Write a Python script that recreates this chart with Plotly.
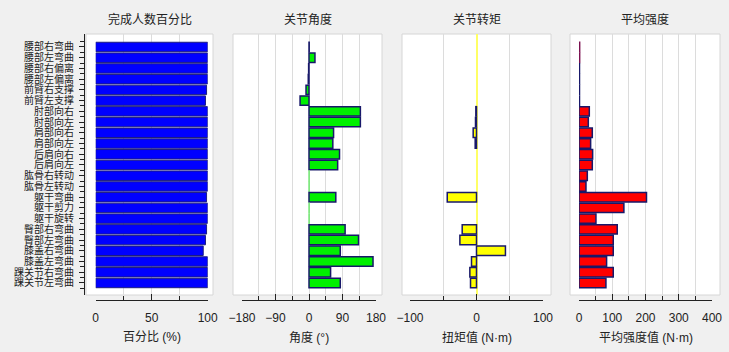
import plotly.graph_objects as go

categories = ["腰部右弯曲", "腰部左弯曲", "腰部右偏离", "腰部左偏离", "前臂右支撑", "前臂左支撑",
              "肘部向右", "肘部向左", "肩部向右", "肩部向左", "后肩向右", "后肩向左",
              "肱骨右转动", "肱骨左转动", "躯干弯曲", "躯干剪力", "躯干旋转",
              "臀部右弯曲", "臀部左弯曲", "膝盖右弯曲", "膝盖左弯曲", "踝关节右弯曲", "踝关节左弯曲"]
completion_pct = [100, 100, 100, 100, 99, 98, 100, 100, 100, 100, 100, 100,
                  100, 100, 99, 100, 100, 99, 98, 96, 100, 100, 100]
joint_angle = [0.5, 16, -1, -2, -8, -24, 138, 138, 66, 64, 82, 77,
               0.5, 0.5, 72, 0.5, 0.5, 97, 133, 84, 172, 58, 84]
joint_torque = [0, 0, 0, 0, 0, 0, -1, -1.5, -5, -2, 0, 0,
                0, 0, -44, 0, 0, -21.5, -25, 43.5, -7.5, -10, -9]
avg_strength = [2, 2, 1.5, 1.5, 1.5, 1.5, 31, 28, 40, 35, 41, 40,
                25, 21, 203, 135, 51, 115, 103, 103, 83, 103, 81]

panel_titles = ["完成人数百分比", "关节角度", "关节转矩", "平均强度"]
axis_titles = ["百分比 (%)", "角度 (°)", "扭矩值 (N·m)", "平均强度值 (N·m)"]

W, H = 729, 352
def fx(px):
    return px / W
def fy(py):
    return 1 - py / H

idx = list(range(len(categories)))
FONT = "Liberation Sans, Noto Sans CJK SC, sans-serif"
CJK = "Noto Sans CJK SC, sans-serif"

data_x = [(95.7, 207.7), (242, 376), (410, 543), (579, 712)]
bg_x = [(86, 213), (233, 382), (402, 551), (570, 720)]
ranges = [[0, 100], [-180, 180], [-100, 100], [0, 400]]
majors = [50, 90, 100, 100]
minors = [25, 45, 50, 50]
colors = ["#0000ff", "#00f000", "#ffff00", "#ff0000"]
series = [completion_pct, joint_angle, joint_torque, avg_strength]

NAVY = "#18186a"
line_cols_angle = [NAVY] * len(categories)
for i in (12, 13, 15, 16):
    line_cols_angle[i] = "#7ee87e"
line_cols_torque = [NAVY if v != 0 else "rgba(0,0,0,0)" for v in joint_torque]
line_cols_strength = [NAVY] * len(categories)
line_cols_strength[0] = "#7a1050"
line_cols_strength[1] = "#7a1050"
line_colors = ["#1c1c80", line_cols_angle, line_cols_torque, line_cols_strength]
line_widths = [1, 1.5, 1.5, 1.5]

fig = go.Figure()
for k in range(4):
    xa = "x" if k == 0 else f"x{k+1}"
    fig.add_trace(go.Bar(
        x=series[k], y=idx, orientation="h", xaxis=xa, yaxis="y",
        marker=dict(color=colors[k], line=dict(color=line_colors[k], width=line_widths[k])),
        showlegend=False, hoverinfo="x+y",
    ))

top_px, bot_px = 34, 295
layout = dict(
    width=W, height=H, autosize=False,
    margin=dict(l=0, r=0, t=0, b=0, pad=0, autoexpand=False),
    paper_bgcolor="#f0f0f0",
    plot_bgcolor="rgba(0,0,0,0)",
    bargap=0.12,
    showlegend=False,
    font=dict(family=FONT, size=12, color="#222222"),
    shapes=[], annotations=[],
)

layout["yaxis"] = dict(
    domain=[fy(bot_px), fy(top_px)],
    range=[23.12, -1.21],
    tickmode="array", tickvals=idx, ticktext=categories,
    ticks="outside", ticklen=5, tickcolor="#222", tickwidth=1,
    minor=dict(tickmode="linear", tick0=0.5, dtick=1, ticks="outside", ticklen=4, tickcolor="#222"),
    showline=True, linecolor="#222", linewidth=1,
    showgrid=False, zeroline=False,
    anchor="free", position=fx(84), automargin=False,
    ticklabelstandoff=3,
    tickfont=dict(family=CJK, size=10, color="#222"),
    fixedrange=True,
)

for k in range(4):
    name = "xaxis" if k == 0 else f"xaxis{k+1}"
    layout[name] = dict(
        domain=[fx(data_x[k][0]), fx(data_x[k][1])],
        range=ranges[k],
        tickmode="linear", tick0=ranges[k][0], dtick=majors[k],
        ticks="inside", ticklen=6, tickcolor="#222", tickwidth=1,
        minor=dict(dtick=minors[k], tick0=ranges[k][0], ticks="inside", ticklen=4,
                   tickcolor="#222", showgrid=True, gridcolor="#dcdcdc", gridwidth=1),
        showgrid=True, gridcolor="#dcdcdc", gridwidth=1,
        showline=True, linecolor="#222", linewidth=1,
        zeroline=(k == 2), zerolinecolor="#ffff66", zerolinewidth=1.5,
        anchor="free", position=fy(300), automargin=False,
        ticklabelstandoff=7,
        tickfont=dict(family=FONT, size=12, color="#222"),
        fixedrange=True,
    )
    layout["shapes"].append(dict(
        type="rect", xref="paper", yref="paper", layer="below",
        x0=fx(bg_x[k][0]), x1=fx(bg_x[k][1]), y0=fy(bot_px), y1=fy(top_px),
        fillcolor="#ffffff", line=dict(color="#d6d6d6", width=1),
    ))
    cx = fx((bg_x[k][0] + bg_x[k][1]) / 2)
    layout["annotations"].append(dict(
        text=panel_titles[k], xref="paper", yref="paper", x=cx, y=fy(18),
        xanchor="center", yanchor="middle", showarrow=False,
        font=dict(family=CJK, size=12, color="#222"),
    ))
    ax_cx = fx((data_x[k][0] + data_x[k][1]) / 2)
    layout["annotations"].append(dict(
        text=axis_titles[k], xref="paper", yref="paper", x=ax_cx, y=fy(337),
        xanchor="center", yanchor="middle", showarrow=False,
        font=dict(family=FONT, size=12, color="#222"),
    ))

fig.update_layout(**layout)
fig.write_html(
    "out.html",
    config={"displayModeBar": False},
    post_script="document.body.style.margin='0';document.body.style.overflow='hidden';",
)
